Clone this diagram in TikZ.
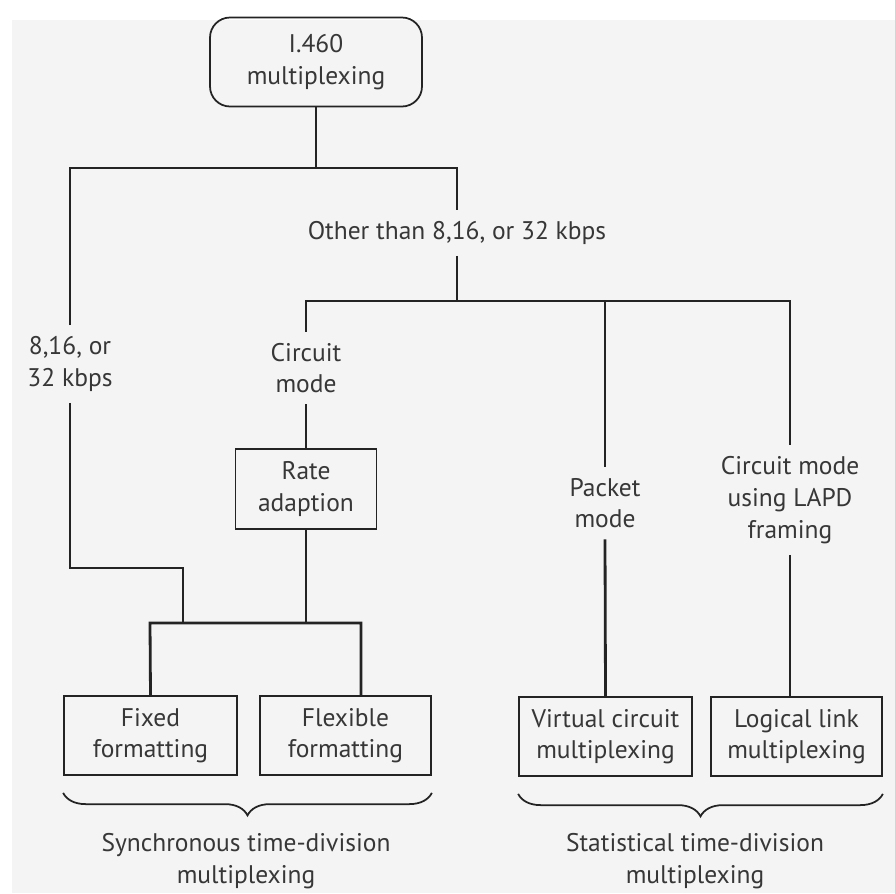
\documentclass[tikz,border=0pt]{standalone}
\usepackage{fontspec}
\setmainfont{PT Sans}
\usepackage{tikz}
\usetikzlibrary{positioning,calc,decorations.pathreplacing}
\definecolor{colorPage}{RGB}{244,244,244}
\definecolor{colorInk}{RGB}{35,35,35}
\definecolor{colorText}{RGB}{55,55,55}

\begin{document}
\begin{tikzpicture}[x=0.02cm,y=-0.02cm,font=\fontsize{14.5}{18}\selectfont,text=colorText,
  boxnode/.style={draw=colorInk,line width=1pt,minimum height=1.58cm,align=center,inner sep=0pt},
  lbl/.style={align=center,inner xsep=0pt,inner ysep=0.22cm},
  conn/.style={draw=colorInk,line width=1.6pt},
  bracket/.style={draw=colorInk,line width=1pt,decorate,decoration={brace,mirror,amplitude=0.45cm}}]
  % page
  \useasboundingbox (0,0) rectangle (895,893);
  \fill[colorPage] (12,20) rectangle (895,893);
  % boxes
  \node[boxnode,rounded corners=0.4cm,minimum width=4.24cm,minimum height=1.78cm] (root) at (316,62) {I.460\\multiplexing};
  \node[boxnode,minimum width=2.82cm,minimum height=1.6cm] (rate) at (306,489) {Rate\\adaption};
  \node[boxnode,minimum width=3.46cm] (fixed) at (150.5,735.5) {Fixed\\formatting};
  \node[boxnode,minimum width=3.42cm] (flexible) at (345.5,735.5) {Flexible\\formatting};
  \node[boxnode,minimum width=3.46cm] (virtual) at (605.5,736.5) {Virtual circuit\\multiplexing};
  \node[boxnode,minimum width=3.42cm] (logical) at (796.5,736.5) {Logical link\\multiplexing};
  % labels on the lines
  \node[lbl] (lblOther) at (457,233) {Other than 8,16, or 32 kbps};
  \node[lbl] (lblRate) at (70,364) {8,16, or\\32 kbps};
  \node[lbl] (lblCircuit) at (306,368) {Circuit\\mode};
  \node[lbl] (lblPacket) at (605,503) {Packet\\mode};
  \node[lbl] (lblLapd) at (790,500) {Circuit mode\\using LAPD\\framing};
  % junctions
  \coordinate (tL) at (70,168);
  \coordinate (tR) at (457,168);
  \coordinate (mL) at (306,301);
  \coordinate (mR) at (790,301);
  \coordinate (kL) at (70,568);
  \coordinate (kR) at (183,568);
  \coordinate (bL) at (150,623);
  \coordinate (bR) at (361,623);
  % connectors
  \draw[conn] (root.south) -- (root.south |- tL);
  \draw[conn] (lblRate.north) -- (tL) -- (tR) -- (lblOther.north);
  \draw[conn] (lblOther.south) -- (lblOther.south |- mL);
  \draw[conn] (lblCircuit.north) -- (mL) -- (mR) -- (lblLapd.north);
  \draw[conn] (lblPacket.north) -- (lblPacket.north |- mL);
  \draw[conn] (lblCircuit.south) -- (rate.north);
  \draw[conn] (lblRate.south) -- (kL) -- (kR) -- (kR |- bL);
  \draw[conn] (rate.south) -- (rate.south |- bL);
  \draw[conn] (fixed.north) -- (bL) -- (bR) -- (bR |- flexible.north);
  \draw[conn] (lblPacket.south) -- (virtual.north);
  \draw[conn] (lblLapd.south) -- (lblLapd.south |- logical.north);
  % braces
  \draw[bracket] ([yshift=-0.34cm]fixed.south west) -- ([yshift=-0.34cm]flexible.south east);
  \draw[bracket] ([yshift=-0.34cm]virtual.south west) -- ([yshift=-0.34cm]logical.south east);
  \node[align=center] (sync) at (246,861) {Synchronous time-division\\multiplexing};
  \node[align=center] (stat) at (695,861) {Statistical time-division\\multiplexing};
\end{tikzpicture}
\end{document}
